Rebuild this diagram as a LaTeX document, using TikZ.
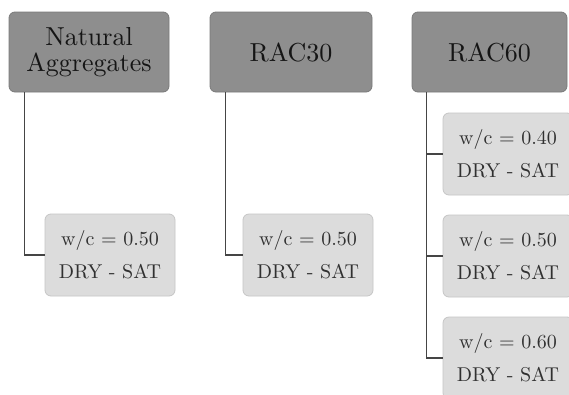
\documentclass[tikz,border=0pt]{standalone}
\usepackage{fontspec}
\newfontfamily\lmten{lmroman10-regular.otf}
\usetikzlibrary{positioning}
\definecolor{headfill}{HTML}{8E8E8E}
\definecolor{headdraw}{HTML}{7A7A7A}
\definecolor{childfill}{HTML}{DCDCDC}
\definecolor{childdraw}{HTML}{C6C6C6}
\definecolor{linecol}{HTML}{454545}
\definecolor{headtext}{HTML}{151515}
\definecolor{childtext}{HTML}{303030}
\tikzset{
  headbox/.style={rectangle, rounded corners=6pt, fill=headfill, draw=headdraw, line width=0.8pt,
    minimum height=80pt, inner sep=0pt, align=center, text=headtext,
    font=\lmten\fontsize{26}{26}\selectfont},
  childbox/.style={rectangle, rounded corners=6pt, fill=childfill, draw=childdraw, line width=0.8pt,
    minimum width=130pt, minimum height=82pt, inner sep=0pt, align=center, text=childtext,
    font=\lmten\fontsize{20}{33}\selectfont},
  conn/.style={draw=linecol, line width=1.4pt}
}
\begin{document}
\begin{tikzpicture}[x=1pt,y=-1pt]
\useasboundingbox (0,0) rectangle (569,394);
\clip (0,0) rectangle (569,394);
\fill[white] (0,0) rectangle (569,394);
% headers
\node[headbox, minimum width=160pt] (h1) at (89,52) {Natural\\Aggregates};
\node[headbox, minimum width=162pt] (h2) at (291,52) {RAC30};
\node[headbox, minimum width=155pt] (h3) at (489.5,52) {RAC60};
% children
\node[childbox] (c1) at (110,255) {w/c = 0.50\\DRY - SAT};
\node[childbox] (c2) at (308,255) {w/c = 0.50\\DRY - SAT};
\node[childbox] (c3a) at (508,154) {w/c = 0.40\\DRY - SAT};
\node[childbox] (c3b) at (508,256) {w/c = 0.50\\DRY - SAT};
\node[childbox] (c3c) at (508,358) {w/c = 0.60\\DRY - SAT};
% connectors
\draw[conn] ([xshift=16pt]h1.south west) |- (c1.west);
\draw[conn] ([xshift=16pt]h2.south west) |- (c2.west);
\draw[conn] ([xshift=15pt]h3.south west) |- (c3c.west);
\coordinate (v3a) at ([xshift=15pt]h3.south west |- c3a.west);
\coordinate (v3b) at ([xshift=15pt]h3.south west |- c3b.west);
\draw[conn] (v3a) -- (c3a.west);
\draw[conn] (v3b) -- (c3b.west);
\end{tikzpicture}
\end{document}
